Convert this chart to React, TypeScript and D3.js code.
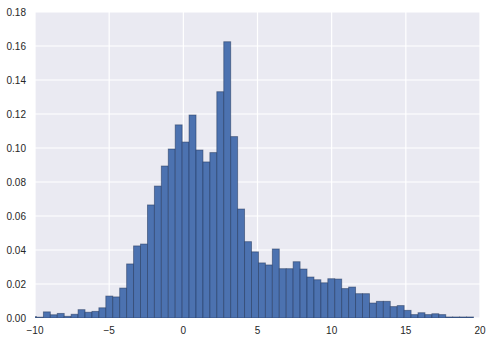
import React from "react";
import * as d3 from "d3";

// Histogram bins (density) — left edge of first bin and bin width in data units
const binStart = -10.37;
const binWidth = 0.4677;
const densities = [
  0.0008, 0.0005, 0.0036, 0.0019, 0.0027, 0.001, 0.0022, 0.0049, 0.0034, 0.0039,
  0.006, 0.0129, 0.0124, 0.0176, 0.0318, 0.0424, 0.0435, 0.0665, 0.0776, 0.0894,
  0.0994, 0.1136, 0.1035, 0.1194, 0.0988, 0.0918, 0.0973, 0.1331, 0.1625, 0.1067,
  0.0641, 0.0449, 0.0389, 0.0324, 0.0312, 0.0406, 0.029, 0.029, 0.0331, 0.0288,
  0.0241, 0.0225, 0.0207, 0.0231, 0.0229, 0.0173, 0.0182, 0.0143, 0.0143, 0.0088,
  0.0098, 0.0098, 0.0067, 0.0073, 0.0045, 0.002, 0.0031, 0.002, 0.0025, 0.002,
  0.0006, 0.0006, 0.0006, 0.0006,
];
const xTicks = [-10, -5, 0, 5, 10, 15, 20];
const yTicks = [0, 0.02, 0.04, 0.06, 0.08, 0.1, 0.12, 0.14, 0.16, 0.18];

const W = 493;
const H = 341;
const left = 35;
const right = 480;
const top = 12;
const bottom = 318;

export default function App() {
  const x = d3.scaleLinear().domain([-10, 20]).range([left, right]);
  const y = d3.scaleLinear().domain([0, 0.18]).range([bottom, top]);
  const fmtY = d3.format(".2f");
  const fmtX = (v: number) => (v < 0 ? "\u2212" + Math.abs(v) : String(v));

  return (
    <svg
      width={W}
      height={H}
      style={{ position: "absolute", left: 0, top: 0, background: "#fff" }}
      fontFamily="'Liberation Sans', Arial, sans-serif"
    >
      <defs>
        <clipPath id="plotclip">
          <rect x={left} y={top} width={right - left} height={bottom - top} />
        </clipPath>
      </defs>
      <rect x={left} y={top} width={right - left} height={bottom - top} fill="#EAEAF2" />
      {xTicks.map((t) => (
        <line key={"gx" + t} x1={x(t)} x2={x(t)} y1={top} y2={bottom} stroke="#fff" strokeWidth={1.2} />
      ))}
      {yTicks.map((t) => (
        <line key={"gy" + t} x1={left} x2={right} y1={y(t)} y2={y(t)} stroke="#fff" strokeWidth={1.2} />
      ))}
      <g clipPath="url(#plotclip)">
        {densities.map((d, i) => {
          const x0 = x(binStart + i * binWidth);
          const x1 = x(binStart + (i + 1) * binWidth);
          return (
            <rect
              key={i}
              x={x0}
              y={y(d)}
              width={x1 - x0}
              height={bottom - y(d)}
              fill="#4C72B0"
              stroke="#1f3357"
              strokeOpacity={0.55}
              strokeWidth={0.9}
            />
          );
        })}
      </g>
      {xTicks.map((t) => (
        <text key={"tx" + t} x={x(t)} y={334} fontSize={10} fill="#262626" textAnchor="middle">
          {fmtX(t)}
        </text>
      ))}
      {yTicks.map((t) => (
        <text key={"ty" + t} x={26} y={y(t) + 3.5} fontSize={10} fill="#262626" textAnchor="end">
          {fmtY(t)}
        </text>
      ))}
    </svg>
  );
}
